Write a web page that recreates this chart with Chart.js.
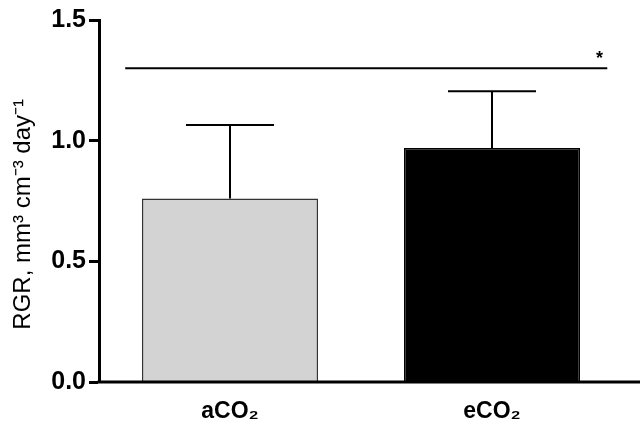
<!DOCTYPE html>
<html>
<head>
<meta charset="utf-8">
<script src="https://cdn.jsdelivr.net/npm/chart.js@4"></script>
<style>
html,body{margin:0;padding:0;background:#fff;}
#wrap{width:640px;height:430px;position:relative;}
</style>
</head>
<body>
<div id="wrap"><canvas id="c" width="640" height="430"></canvas></div>
<script>
const categories = ['aCO\u2082', 'eCO\u2082'];
const meanValues = [0.76, 0.97];
const errorUpper = [1.065, 1.205];
const yTicks = [0.0, 0.5, 1.0, 1.5];
const sigLevel = 1.30;
const sigLabel = '*';
const barColors = ['#d3d3d3', '#000000'];

const FONT = '"Liberation Sans", Arial, sans-serif';

const extras = {
  id: 'extras',
  afterDatasetsDraw(chart) {
    const ctx = chart.ctx;
    const x = chart.scales.x, y = chart.scales.y;
    const meta = chart.getDatasetMeta(0);
    ctx.save();
    ctx.strokeStyle = '#000';
    ctx.lineWidth = 2;
    meta.data.forEach((bar, i) => {
      const cx = bar.x;
      const half = bar.width / 4;
      const yTop = y.getPixelForValue(errorUpper[i]);
      const yBar = y.getPixelForValue(meanValues[i]);
      ctx.beginPath();
      ctx.moveTo(cx, yBar);
      ctx.lineTo(cx, yTop);
      ctx.moveTo(cx - half, yTop);
      ctx.lineTo(cx + half, yTop);
      ctx.stroke();
    });
    // significance line
    const p0 = x.getPixelForValue(0), p1 = x.getPixelForValue(1);
    const step = p1 - p0;
    const ys = y.getPixelForValue(sigLevel);
    ctx.lineWidth = 2;
    ctx.beginPath();
    ctx.moveTo(p0 - 0.4 * step, ys);
    ctx.lineTo(p1 + 0.44 * step, ys);
    ctx.stroke();
    ctx.fillStyle = '#000';
    ctx.font = 'bold 18px ' + FONT;
    ctx.textAlign = 'center';
    ctx.textBaseline = 'middle';
    ctx.fillText(sigLabel, p1 + 0.41 * step, ys - 9);
    // x axis line extended to right edge
    ctx.lineWidth = 3;
    ctx.beginPath();
    ctx.moveTo(chart.chartArea.left - 1.5, y.getPixelForValue(0));
    ctx.lineTo(chart.width, y.getPixelForValue(0));
    ctx.stroke();
    ctx.restore();
  }
};

new Chart(document.getElementById('c'), {
  type: 'bar',
  data: {
    labels: categories,
    datasets: [{
      data: meanValues,
      backgroundColor: barColors,
      borderColor: ['#333', '#000'],
      borderWidth: 1.5,
      categoryPercentage: 1.0,
      barPercentage: 0.672
    }]
  },
  options: {
    responsive: false,
    animation: false,
    devicePixelRatio: 1,
    layout: { padding: { top: 20, right: 17, left: 0, bottom: 0 } },
    plugins: { legend: { display: false }, tooltip: { enabled: false } },
    scales: {
      x: {
        grid: { display: false, drawTicks: false },
        border: { display: false },
        ticks: { color: '#000', padding: 16, font: { family: FONT, size: 23, weight: 'bold' } },
        afterFit(s) { s.height = 48; }
      },
      y: {
        min: 0, max: 1.5,
        afterBuildTicks(s) { s.ticks = yTicks.map(v => ({ value: v })); },
        grid: { drawOnChartArea: false, drawTicks: true, tickLength: 10, tickWidth: 3, tickColor: '#000' },
        border: { display: true, width: 3, color: '#000' },
        ticks: {
          color: '#000', padding: 3,
          font: { family: FONT, size: 25, weight: 'bold' },
          callback: v => Number(v).toFixed(1)
        },
        title: {
          display: true,
          text: 'RGR, mm\u00B3 cm\u207B\u00B3 day\u207B\u00B9    ',
          color: '#000',
          font: { family: FONT, size: 24 },
          padding: { top: 9, bottom: 0 }
        },
        afterFit(s) { s.width = 99; }
      }
    }
  },
  plugins: [extras]
});
</script>
</body>
</html>
